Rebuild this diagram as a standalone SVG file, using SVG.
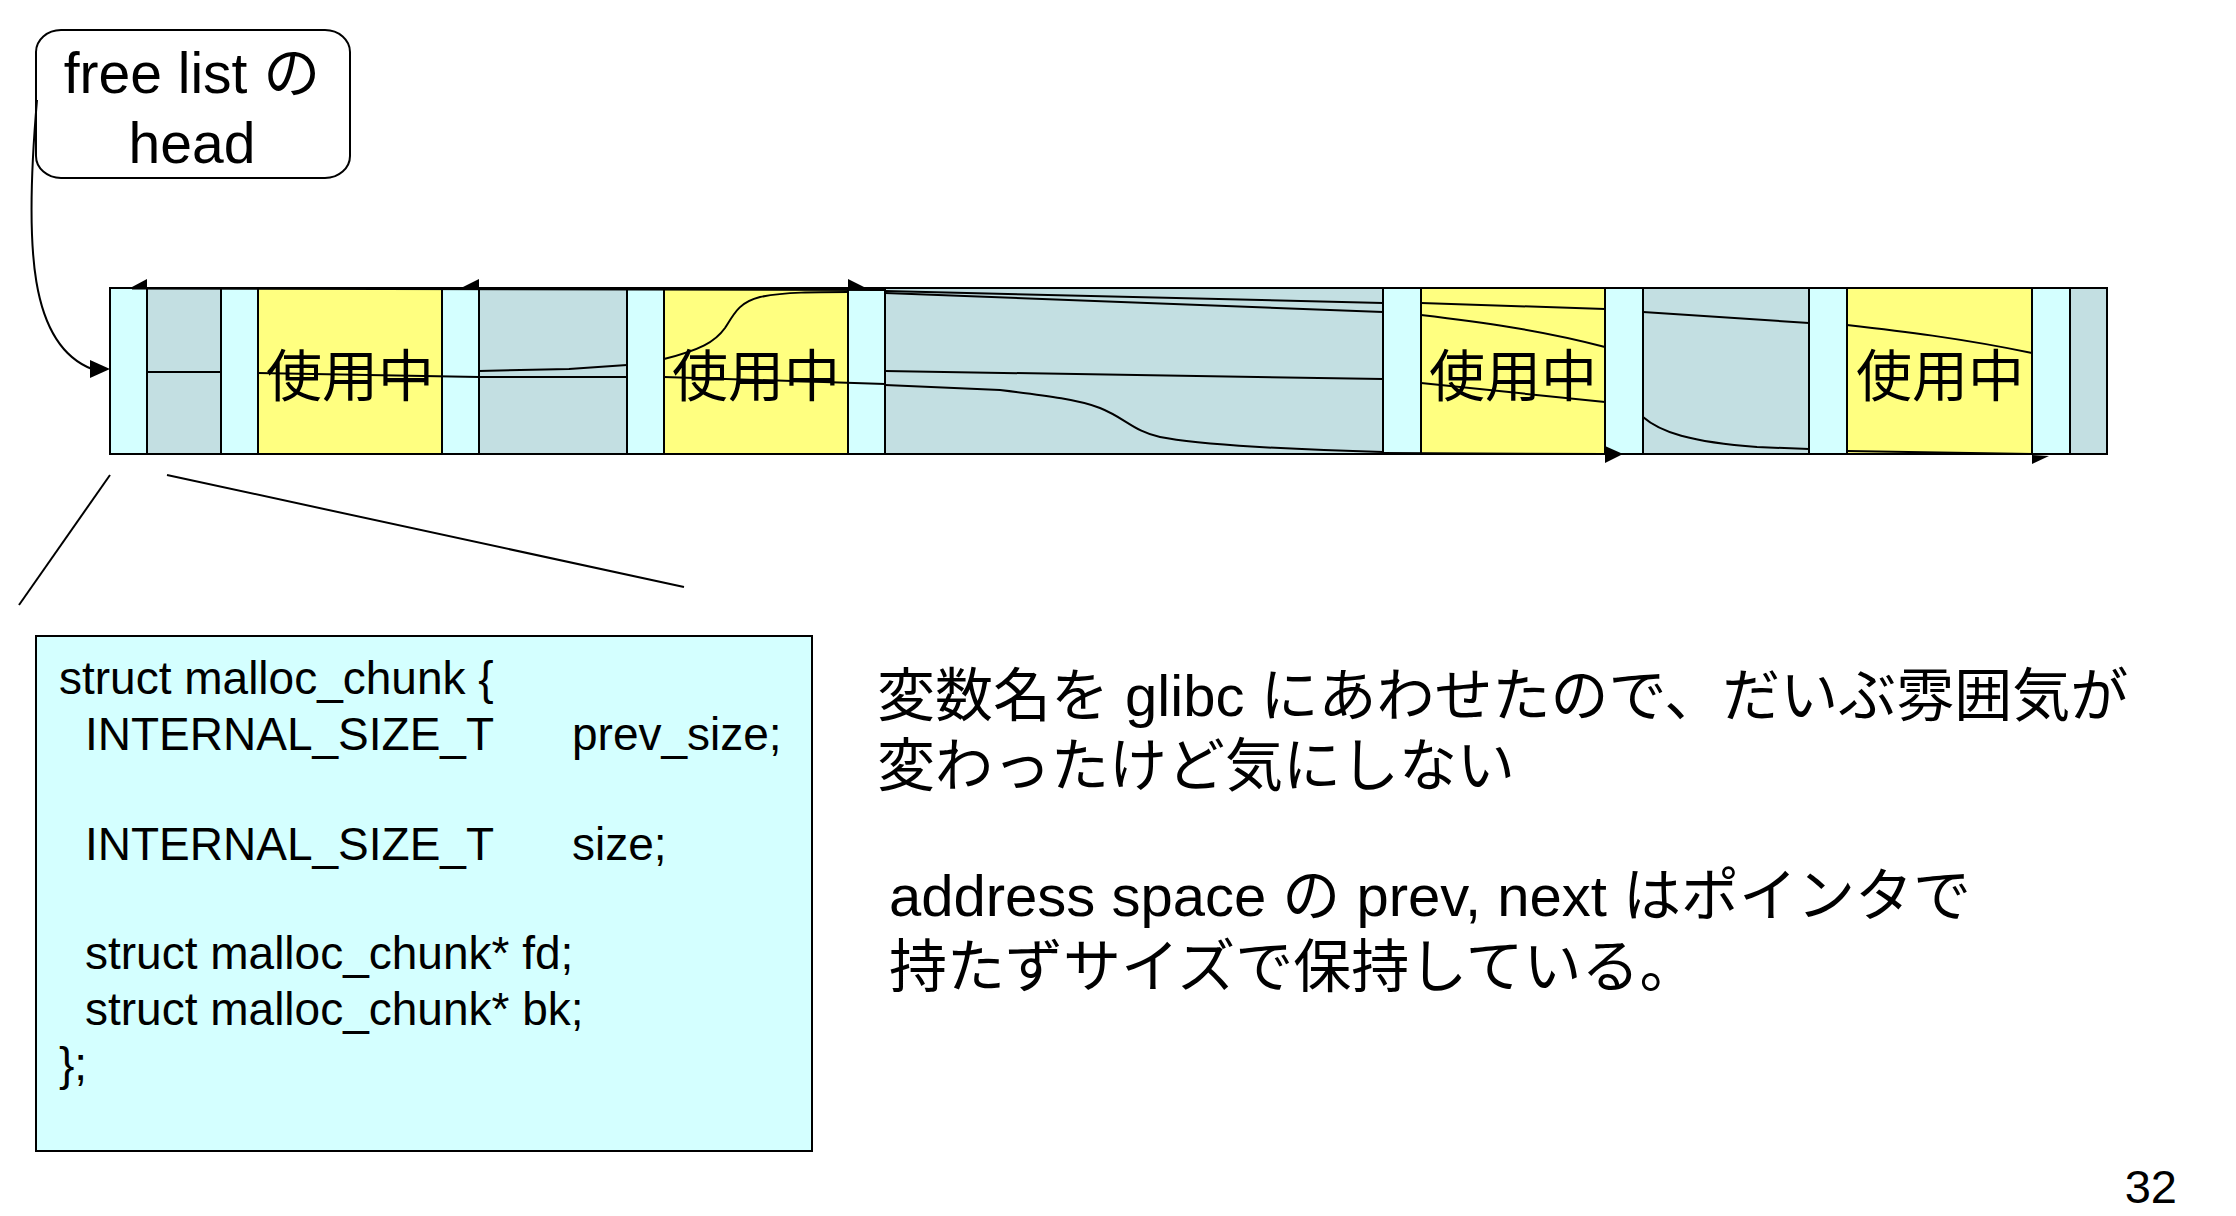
<svg xmlns="http://www.w3.org/2000/svg" width="2236" height="1216" viewBox="0 0 2236 1216">
<style>
.t{font-family:"Liberation Sans","Noto Sans CJK JP",sans-serif;fill:#000}
.cy{fill:#D4FFFF;stroke:#000;stroke-width:2}
.gr{fill:#C3DFE2;stroke:#000;stroke-width:2}
.ye{fill:#FFFF80;stroke:#000;stroke-width:2}
.ln{fill:none;stroke:#000;stroke-width:2}
.ah{fill:#000;stroke:none}
.use{font-size:56px;text-anchor:middle}
.code{font-size:46px}
.note{font-size:58px}
</style>
<rect width="2236" height="1216" fill="#fff"/>

<g id="head">
<rect x="36" y="30" width="314" height="148" rx="25" ry="22" fill="#fff" stroke="#000" stroke-width="2"/>
<text class="t" x="192" y="93" font-size="57" text-anchor="middle">free list の</text>
<text class="t" x="192" y="163" font-size="57" text-anchor="middle">head</text>
</g>

<g id="memory">
<rect class="gr" x="110" y="288" width="1997" height="166"/>
<rect class="cy" x="110" y="288" width="37" height="166"/>
<rect class="gr" x="147" y="288" width="74" height="166"/>
<rect class="cy" x="221" y="288" width="37" height="166"/>
<rect class="ye" x="258" y="288" width="184" height="166"/>
<rect class="cy" x="442" y="288" width="37" height="166"/>
<rect class="gr" x="479" y="288" width="148" height="166"/>
<rect class="cy" x="627" y="288" width="37" height="166"/>
<rect class="ye" x="664" y="288" width="184" height="166"/>
<rect class="cy" x="848" y="288" width="37" height="166"/>
<rect class="gr" x="885" y="288" width="498" height="166"/>
<rect class="cy" x="1383" y="288" width="38" height="166"/>
<rect class="ye" x="1421" y="288" width="184" height="166"/>
<rect class="cy" x="1605" y="288" width="38" height="166"/>
<rect class="gr" x="1643" y="288" width="166" height="166"/>
<rect class="cy" x="1809" y="288" width="38" height="166"/>
<rect class="ye" x="1847" y="288" width="185" height="166"/>
<rect class="cy" x="2032" y="288" width="38" height="166"/>
<rect class="gr" x="2070" y="288" width="37" height="166"/>
</g>

<g id="inuse-labels">
<text class="t use" x="350" y="396">使用中</text>
<text class="t use" x="756" y="396">使用中</text>
<text class="t use" x="1513" y="396">使用中</text>
<text class="t use" x="1940" y="396">使用中</text>
</g>

<g id="connectors">
<path class="ln" d="M37,100 C24,250 30,345 92,369"/>
<polygon class="ah" points="90,360 110,369 90,378"/>
<path class="ln" d="M132,288.5 L885,290"/>
<polygon class="ah" points="132,287 147,279 147,288"/>
<polygon class="ah" points="463,287 479,279 479,288"/>
<polygon class="ah" points="848,279 864,287 848,288"/>
<path class="ln" d="M147,372 L221,372"/>
<path class="ln" d="M258,373 L479,377 M479,377 L627,377 M664,377 L885,384"/>
<path class="ln" d="M885,385 L1000,390 C1050,396 1080,400 1100,408 C1125,418 1135,432 1160,437 C1200,445 1300,450 1383,452"/>
<path class="ln" d="M1383,453 L1605,454"/>
<polygon class="ah" points="1605,446 1623,454 1605,463"/>
<path class="ln" d="M479,371 L569,369 L627,365"/>
<path class="ln" d="M664,359 C700,350 715,342 725,328 C735,312 740,302 760,297 C785,292 815,292 848,292"/>
<path class="ln" d="M885,291 L1383,303"/>
<path class="ln" d="M885,293 L1383,312"/>
<path class="ln" d="M885,371 L1383,379"/>
<path class="ln" d="M1421,303 L1605,309"/>
<path class="ln" d="M1421,315 C1480,322 1540,330 1605,347"/>
<path class="ln" d="M1421,383 L1605,402"/>
<path class="ln" d="M1643,312 L1809,323"/>
<path class="ln" d="M1643,417 C1660,432 1690,442 1757,447 L1809,449"/>
<path class="ln" d="M1847,325 C1900,331 1960,338 2032,353"/>
<path class="ln" d="M1847,451 L2032,454"/>
<polygon class="ah" points="2032,455 2049,456 2032,464"/>
<path class="ln" d="M110,475 L19,605"/>
<path class="ln" d="M167,475 L684,587"/>
</g>

<g id="struct">
<rect x="36" y="636" width="776" height="515" fill="#D4FFFF" stroke="#000" stroke-width="2"/>
<text class="t code" x="59" y="694">struct malloc_chunk {</text>
<text class="t code" x="85" y="750">INTERNAL_SIZE_T</text>
<text class="t code" x="572" y="750">prev_size;</text>
<text class="t code" x="85" y="860">INTERNAL_SIZE_T</text>
<text class="t code" x="572" y="860">size;</text>
<text class="t code" x="85" y="969">struct malloc_chunk* fd;</text>
<text class="t code" x="85" y="1025">struct malloc_chunk* bk;</text>
<text class="t code" x="59" y="1080">};</text>
</g>

<g id="notes">
<text class="t note" x="877" y="716">変数名を glibc にあわせたので、だいぶ雰囲気が</text>
<text class="t note" x="877" y="786">変わったけど気にしない</text>
<text class="t note" x="889" y="916">address space の prev, next はポインタで</text>
<text class="t note" x="889" y="987">持たずサイズで保持している。</text>
</g>

<text id="page" class="t" x="2177" y="1203" font-size="47" text-anchor="end">32</text>
</svg>
